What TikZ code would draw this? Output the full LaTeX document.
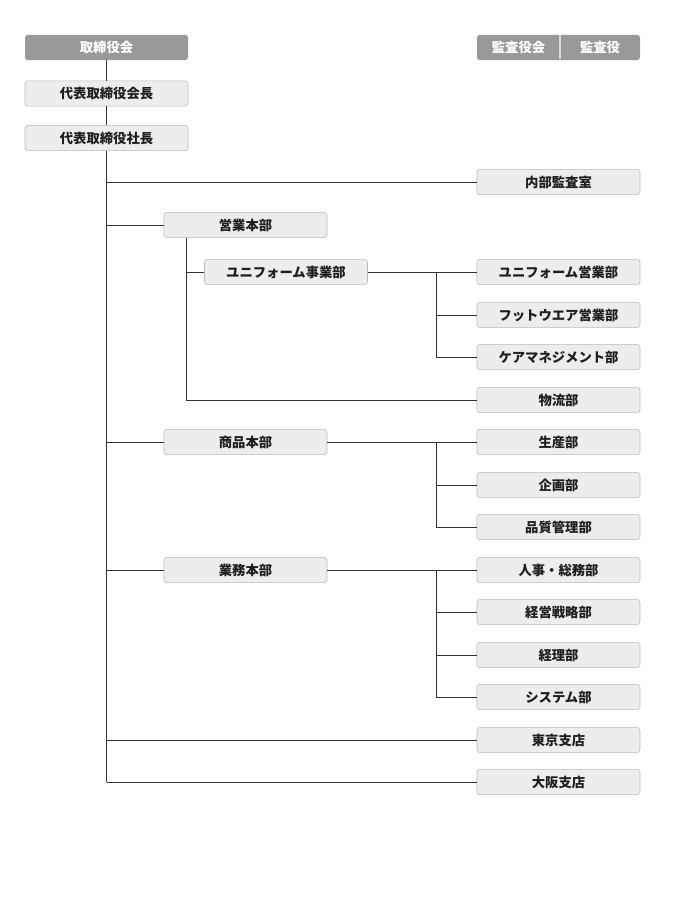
\documentclass[tikz,border=0pt]{standalone}
\usepackage{fontspec}
\setmainfont{Noto Sans CJK JP}
\begin{document}
\begin{tikzpicture}[x=0.75pt,y=-0.75pt,
  every node/.style={font=\fontsize{10}{12}\selectfont\bfseries},
  org/.style={draw=black!27,fill=black!7,rounded corners=2.2pt,minimum width=122.25pt,minimum height=19pt,inner sep=0pt,text=black!88},
  dark/.style={fill=black!40,rounded corners=2.2pt,minimum height=19pt,inner sep=0pt,text=white},
  link/.style={draw=black!80,line width=0.6pt}]
\useasboundingbox (0,0) rectangle (680,920);
% nodes
\node[dark,minimum width=122.25pt] (board) at (106.5,47.5) {取締役会};
\node[dark,minimum width=122.25pt] (kansabg) at (558.5,47.5) {};
\node[text=white] (kansakai) at (518.5,47.5) {監査役会};
\node[text=white] (kansayaku) at (600,47.5) {監査役};
\node[org] (chair) at (106.5,93.5) {代表取締役会長};
\node[org] (ceo) at (106.5,138) {代表取締役社長};
\node[org] (audit) at (558.5,182) {内部監査室};
\node[org] (sales) at (245.5,225) {営業本部};
\node[org] (uniform) at (286,272) {ユニフォーム事業部};
\node[org] (usales) at (558.5,272) {ユニフォーム営業部};
\node[org] (foot) at (558.5,315) {フットウエア営業部};
\node[org] (care) at (558.5,357) {ケアマネジメント部};
\node[org] (logi) at (558.5,400) {物流部};
\node[org] (prod) at (245.5,442) {商品本部};
\node[org] (mfg) at (558.5,442) {生産部};
\node[org] (plan) at (558.5,485) {企画部};
\node[org] (qc) at (558.5,527) {品質管理部};
\node[org] (ops) at (245.5,570) {業務本部};
\node[org] (hr) at (558.5,570) {人事・総務部};
\node[org] (strat) at (558.5,612) {経営戦略部};
\node[org] (acct) at (558.5,655) {経理部};
\node[org] (sys) at (558.5,697) {システム部};
\node[org] (tokyo) at (558.5,740) {東京支店};
\node[org] (osaka) at (558.5,782) {大阪支店};
% divider in audit box
\coordinate (dtop) at (560,35.5);
\coordinate (dbot) at (560,59.5);
\draw[white!85!black,line width=0.8pt] (dtop) -- (dbot);
% coordinates
\coordinate (trunk) at (106.5,0);
\coordinate (salesx) at (186,0);
\coordinate (bx) at (436,0);
% trunk
\draw[link] (board) -- (chair);
\draw[link] (chair) -- (ceo);
\draw[link] (ceo.south) -- (ceo.south |- osaka.west);
\draw[link] (trunk |- audit.west) -- (audit.west);
\draw[link] (trunk |- sales.west) -- (sales.west);
\draw[link] (trunk |- prod.west) -- (prod.west);
\draw[link] (trunk |- ops.west) -- (ops.west);
\draw[link] (trunk |- tokyo.west) -- (tokyo.west);
\draw[link] (trunk |- osaka.west) -- (osaka.west);
% sales
\draw[link] (salesx |- sales.south) -- (salesx |- logi.west) -- (logi.west);
\draw[link] (salesx |- uniform.west) -- (uniform.west);
\draw[link] (uniform.east) -- (usales.west);
\draw[link] (bx |- usales.west) -- (bx |- care.west) -- (care.west);
\draw[link] (bx |- foot.west) -- (foot.west);
% products
\draw[link] (prod.east) -- (mfg.west);
\draw[link] (bx |- mfg.west) -- (bx |- qc.west) -- (qc.west);
\draw[link] (bx |- plan.west) -- (plan.west);
% operations
\draw[link] (ops.east) -- (hr.west);
\draw[link] (bx |- hr.west) -- (bx |- sys.west) -- (sys.west);
\draw[link] (bx |- strat.west) -- (strat.west);
\draw[link] (bx |- acct.west) -- (acct.west);
\end{tikzpicture}
\end{document}
